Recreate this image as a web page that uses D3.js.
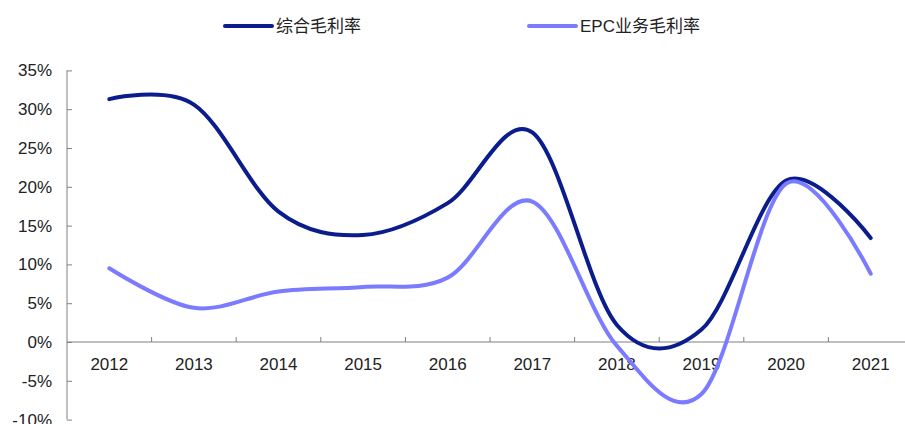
<!DOCTYPE html>
<html>
<head>
<meta charset="utf-8">
<script src="https://cdn.jsdelivr.net/npm/d3@7"></script>
<style>
  html, body { margin: 0; padding: 0; background: #fff; }
  svg { display: block; }
  text { font-family: "Liberation Sans", Arial, "Noto Sans CJK SC", sans-serif; fill: #222; }
</style>
</head>
<body>
<svg id="chart" width="905" height="424"></svg>
<script>
// Years on the category axis
const years = ["2012","2013","2014","2015","2016","2017","2018","2019","2020","2021"];
// Gross margin, overall (%)
const totalMargin = [31.3, 30.6, 16.8, 13.8, 17.9, 27.0, 2.2, 1.6, 20.8, 13.4];
// Gross margin, EPC business (%)
const epcMargin = [9.5, 4.4, 6.5, 7.1, 8.3, 18.1, -0.5, -6.7, 20.4, 8.8];
// Y-axis tick values (%)
const yTicks = [-10, -5, 0, 5, 10, 15, 20, 25, 30, 35];
// Series names
const seriesNames = ["综合毛利率", "EPC业务毛利率"];
const seriesColors = ["#0b1d8c", "#7b7bff"];

const svg = d3.select("#chart");

const x = d3.scaleBand().domain(years).range([67, 67 + 84.6 * years.length]);
const y = d3.scaleLinear().domain([-10, 35]).range([419.6, 70.4]);

const axisColor = "#808080";

// Y axis
const yAxis = d3.axisLeft(y).tickValues(yTicks).tickSize(-5).tickPadding(15)
  .tickFormat(d => d + "%");
const gy = svg.append("g").attr("transform", "translate(67,0)").call(yAxis);
gy.select(".domain").attr("stroke", axisColor).attr("d", `M0,${y(35)}V${y(-10)}`);
gy.selectAll(".tick line").attr("stroke", axisColor).attr("x2", 5);
gy.selectAll(".tick text").attr("font-size", 17).attr("x", -15).attr("fill", "#222");

// X axis along zero line, tick marks on band boundaries
const gx = svg.append("g").attr("transform", `translate(0,${y(0)})`);
gx.append("line").attr("x1", 67).attr("x2", x.range()[1])
  .attr("stroke", axisColor).attr("stroke-width", 1);
gx.selectAll("line.tk").data(years.slice(1).concat(["end"]))
  .join("line").attr("class", "tk")
  .attr("x1", (d, i) => 67 + x.bandwidth() * (i + 1))
  .attr("x2", (d, i) => 67 + x.bandwidth() * (i + 1))
  .attr("y1", 0).attr("y2", -5)
  .attr("stroke", axisColor);
gx.selectAll("text").data(years).join("text")
  .attr("x", d => x(d) + x.bandwidth() / 2)
  .attr("y", 28)
  .attr("text-anchor", "middle")
  .attr("font-size", 17)
  .text(d => d);

// Smoothed lines
const line = d3.line()
  .x((d, i) => x(years[i]) + x.bandwidth() / 2)
  .y(d => y(d))
  .curve(d3.curveCardinal.tension(0));

[totalMargin, epcMargin].forEach((vals, k) => {
  svg.append("path")
    .attr("d", line(vals))
    .attr("fill", "none")
    .attr("stroke", seriesColors[k])
    .attr("stroke-width", 4)
    .attr("stroke-linecap", "round")
    .attr("stroke-linejoin", "round");
});

// Legend
const legendPos = [225, 529];
seriesNames.forEach((name, k) => {
  const g = svg.append("g").attr("transform", `translate(${legendPos[k]},26)`);
  g.append("line").attr("x1", 0).attr("x2", 47).attr("y1", 0).attr("y2", 0)
    .attr("stroke", seriesColors[k]).attr("stroke-width", 4).attr("stroke-linecap", "round");
  g.append("text").attr("x", 51).attr("y", 6).attr("font-size", 17)
    .attr("font-family", "'Noto Sans CJK SC', sans-serif").attr("fill", "#333")
    .text(name);
});
</script>
</body>
</html>
